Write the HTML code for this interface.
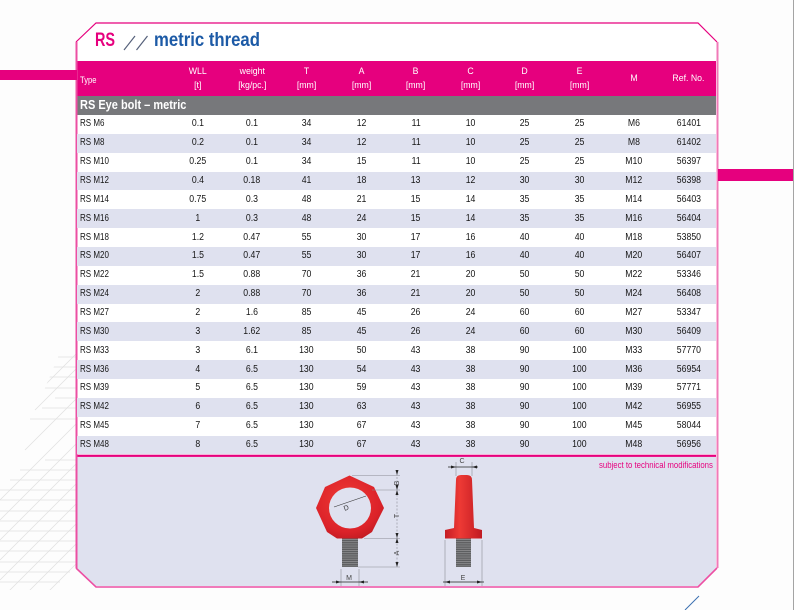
<!DOCTYPE html>
<html><head><meta charset="utf-8">
<style>
body{margin:0;width:794px;height:610px;background:#fdfdfd;position:relative;overflow:hidden;font-family:"Liberation Sans",Arial,sans-serif}
svg.bg{position:absolute;left:0;top:0}
.abs{position:absolute;white-space:nowrap}
#rows{position:absolute;left:77px;top:115px;width:639px}
.r{height:18.87px;display:flex;align-items:center;font-size:10px;color:#161616;line-height:10px}
.r:nth-child(even){background:#dfe1ef}
.r div,.h div{width:54.58px;text-align:center;flex:none}
.r div:first-child,.h div:first-child{width:93.2px;text-align:left;padding-left:3px;box-sizing:border-box}
.r span{display:inline-block;transform:scaleX(.87)}
.r div:first-child span{transform-origin:0 50%;transform:scaleX(.8)}
.h{position:absolute;left:77px;top:61px;width:639px;height:35px;display:flex;align-items:center;color:#fff;font-size:9.5px;line-height:14px}
.h span{display:inline-block;transform:scaleX(.92)}
.h div:first-child span{transform-origin:0 50%;transform:scaleX(.8);position:relative;top:2px}
</style></head><body>
<svg class="bg" width="794" height="610" viewBox="0 0 794 610">
<defs>
<radialGradient id="red" cx="0.45" cy="0.4" r="0.7">
<stop offset="0" stop-color="#ef3b36"/><stop offset="0.7" stop-color="#dc2229"/><stop offset="1" stop-color="#b81920"/>
</radialGradient>
<linearGradient id="red2" x1="0" x2="1">
<stop offset="0" stop-color="#c41c24"/><stop offset="0.4" stop-color="#ee3a35"/><stop offset="1" stop-color="#c01a22"/>
</linearGradient>
<pattern id="thr" width="4" height="2.2" patternUnits="userSpaceOnUse">
<rect width="4" height="2.2" fill="#5c5d5f"/><rect y="0" width="4" height="0.9" fill="#8a8b8d"/>
</pattern>
<clipPath id="hc"><polygon points="76,352 76,590 0,590 0,470 40,400 60,352"/></clipPath>
</defs>
<!-- hatch -->
<g clip-path="url(#hc)" stroke="#e0e0e0" stroke-width="0.7">
<line x1="58" y1="357" x2="76" y2="357"/><line x1="48" y1="367" x2="76" y2="367"/><line x1="38" y1="377" x2="76" y2="377"/>
<line x1="28" y1="388" x2="76" y2="388"/><line x1="55" y1="398" x2="76" y2="398"/><line x1="42" y1="408" x2="76" y2="408"/>
<line x1="30" y1="419" x2="76" y2="419"/><line x1="45" y1="460" x2="76" y2="460"/><line x1="20" y1="470" x2="76" y2="470"/>
<line x1="10" y1="480" x2="76" y2="480"/><line x1="0" y1="490" x2="76" y2="490"/><line x1="0" y1="500" x2="76" y2="500"/>
<line x1="0" y1="511" x2="76" y2="511"/><line x1="0" y1="521" x2="76" y2="521"/><line x1="0" y1="531" x2="76" y2="531"/>
<line x1="0" y1="541" x2="76" y2="541"/><line x1="0" y1="551" x2="76" y2="551"/><line x1="0" y1="562" x2="76" y2="562"/>
<line x1="0" y1="572" x2="70" y2="572"/><line x1="0" y1="582" x2="60" y2="582"/>
<line x1="20" y1="410" x2="76" y2="354"/><line x1="35" y1="410" x2="76" y2="369"/><line x1="25" y1="450" x2="76" y2="399"/>
<line x1="0" y1="500" x2="76" y2="424"/><line x1="0" y1="520" x2="76" y2="444"/><line x1="0" y1="540" x2="76" y2="464"/>
<line x1="0" y1="560" x2="76" y2="484"/><line x1="0" y1="580" x2="76" y2="504"/><line x1="5" y1="595" x2="76" y2="524"/>
<line x1="25" y1="595" x2="76" y2="544"/><line x1="45" y1="595" x2="76" y2="564"/>
</g>
<!-- frame fill -->
<polygon points="76,42 96,23 698,23 717,42 717,568 698,587 96,587 76,568" fill="#ffffff"/>
<rect x="77" y="61" width="639" height="35" fill="#e6007e"/>
<rect x="77" y="96" width="639" height="19" fill="#77787b"/>
<polygon points="77,457 716,457 716,568 698,586 96,586 77,568" fill="#dfe1ef"/>
<rect x="77" y="454.7" width="639" height="2.2" fill="#e6007e"/>
<!-- frame outline -->
<polyline points="76,42 96,23 698,23 717,42" fill="none" stroke="#e6007e" stroke-width="1.2"/>
<line x1="76.5" y1="42" x2="76.5" y2="568" stroke="#ec4fa3" stroke-width="2"/>
<line x1="717.5" y1="42" x2="717.5" y2="568" stroke="#f07ab8" stroke-width="2"/>
<polyline points="76,568 96,587 698,587 717,568" fill="none" stroke="#ec4fa3" stroke-width="1.6"/>
<!-- bars -->
<rect x="0" y="70" width="77" height="10" fill="#e6007e"/>
<rect x="718" y="169" width="76" height="12" fill="#e6007e"/>
<rect x="793" y="0" width="1" height="610" fill="#a4a4a4"/>
<line x1="685" y1="610" x2="699" y2="596" stroke="#3a6fb0" stroke-width="1"/>
<!-- title slashes -->
<line x1="124" y1="50" x2="135" y2="36" stroke="#55607a" stroke-width="1.2"/>
<line x1="136.5" y1="50" x2="147.5" y2="36" stroke="#55607a" stroke-width="1.2"/>
<!-- eye bolt front -->
<g>
<rect x="342" y="537" width="16" height="30" fill="url(#thr)"/>
<path fill-rule="evenodd" fill="url(#red)" d="M349.5,475.5 L374,487 L384,508 L372,532 L362,538.5 L337,538.5 L327,532 L316,508 L325,487 Z M350,487.5 A21,20.5 0 1 0 350,528.5 A21,20.5 0 1 0 350,487.5 Z"/>
<g stroke="#8c8c96" stroke-width="0.6" fill="none">
<line x1="352" y1="475.5" x2="400" y2="475.5"/>
<line x1="372" y1="490" x2="400" y2="490"/>
<line x1="364" y1="538.5" x2="400" y2="538.5"/>
<line x1="358" y1="567" x2="400" y2="567"/>
<line x1="397" y1="470" x2="397" y2="567" stroke-dasharray="2,1.5"/>
<line x1="341" y1="569" x2="341" y2="586"/>
<line x1="359" y1="569" x2="359" y2="586"/>
<line x1="334" y1="507" x2="366" y2="496" stroke="#333"/>
</g>
<g fill="#222">
<polygon points="395.5,470 398.5,470 397,475"/><polygon points="395.5,485 398.5,485 397,490"/>
<polygon points="395.5,495 398.5,495 397,490"/><polygon points="395.5,533 398.5,533 397,538"/>
<polygon points="395.5,543 398.5,543 397,538"/><polygon points="395.5,562 398.5,562 397,567"/>
<line x1="332" y1="582" x2="368" y2="582" stroke="#222" stroke-width="0.7"/>
<polygon points="336,580.5 336,583.5 341,582"/><polygon points="364,580.5 364,583.5 359,582"/>
</g>
<g font-family="Liberation Sans,Arial,sans-serif" font-size="7" fill="#444">
<text x="399" y="483" transform="rotate(-90 399 483)" text-anchor="middle">B</text>
<text x="399" y="516" transform="rotate(-90 399 516)" text-anchor="middle">T</text>
<text x="399" y="553" transform="rotate(-90 399 553)" text-anchor="middle">A</text>
<text x="347" y="510" transform="rotate(-20 347 510)" text-anchor="middle" fill="#333">D</text>
<text x="349" y="580" text-anchor="middle">M</text>
</g>
</g>
<!-- side view -->
<g>
<rect x="456" y="537" width="15" height="30" fill="url(#thr)"/>
<path fill="url(#red2)" d="M456,480 Q456,475 461,475 L467,475 Q472,475 472,480 L474,528 L482,530 L482,538.5 L445,538.5 L445,530 L454,528 Z"/>
<g stroke="#8c8c96" stroke-width="0.6" fill="none">
<line x1="456" y1="462" x2="456" y2="476"/><line x1="472" y1="462" x2="472" y2="476"/>
<line x1="445" y1="540" x2="445" y2="586"/><line x1="482" y1="540" x2="482" y2="586"/>
</g>
<g fill="#222">
<line x1="448" y1="467" x2="478" y2="467" stroke="#222" stroke-width="0.7"/>
<polygon points="451,465.5 451,468.5 456,467"/><polygon points="477,465.5 477,468.5 472,467"/>
<line x1="443" y1="582" x2="484" y2="582" stroke="#222" stroke-width="0.7"/>
<polygon points="450,580.5 450,583.5 445,582"/><polygon points="477,580.5 477,583.5 482,582"/>
</g>
<g font-family="Liberation Sans,Arial,sans-serif" font-size="7" fill="#444">
<text x="462" y="463" text-anchor="middle">C</text>
<text x="463" y="580" text-anchor="middle">E</text>
</g>
</g>
</svg>

<div class="abs" style="left:95px;top:28px;font-size:19px;font-weight:bold;color:#e6007e;transform:scaleX(.76);transform-origin:0 0;line-height:26px">RS</div>
<div class="abs" style="left:154px;top:28px;font-size:19px;font-weight:bold;color:#1c5aa6;transform:scaleX(.88);transform-origin:0 0;line-height:26px">metric thread</div>

<div class="h">
<div><span>Type</span></div>
<div><span>WLL<br>[t]</span></div>
<div><span>weight<br>[kg/pc.]</span></div>
<div><span>T<br>[mm]</span></div>
<div><span>A<br>[mm]</span></div>
<div><span>B<br>[mm]</span></div>
<div><span>C<br>[mm]</span></div>
<div><span>D<br>[mm]</span></div>
<div><span>E<br>[mm]</span></div>
<div><span>M</span></div>
<div><span>Ref. No.</span></div>
</div>

<div class="abs" style="left:80px;top:97px;font-size:12.5px;font-weight:bold;color:#fff;line-height:17px;transform:scaleX(.88);transform-origin:0 0">RS Eye bolt – metric</div>

<div id="rows">
<div class="r"><div><span>RS M6</span></div><div><span>0.1</span></div><div><span>0.1</span></div><div><span>34</span></div><div><span>12</span></div><div><span>11</span></div><div><span>10</span></div><div><span>25</span></div><div><span>25</span></div><div><span>M6</span></div><div><span>61401</span></div></div>
<div class="r"><div><span>RS M8</span></div><div><span>0.2</span></div><div><span>0.1</span></div><div><span>34</span></div><div><span>12</span></div><div><span>11</span></div><div><span>10</span></div><div><span>25</span></div><div><span>25</span></div><div><span>M8</span></div><div><span>61402</span></div></div>
<div class="r"><div><span>RS M10</span></div><div><span>0.25</span></div><div><span>0.1</span></div><div><span>34</span></div><div><span>15</span></div><div><span>11</span></div><div><span>10</span></div><div><span>25</span></div><div><span>25</span></div><div><span>M10</span></div><div><span>56397</span></div></div>
<div class="r"><div><span>RS M12</span></div><div><span>0.4</span></div><div><span>0.18</span></div><div><span>41</span></div><div><span>18</span></div><div><span>13</span></div><div><span>12</span></div><div><span>30</span></div><div><span>30</span></div><div><span>M12</span></div><div><span>56398</span></div></div>
<div class="r"><div><span>RS M14</span></div><div><span>0.75</span></div><div><span>0.3</span></div><div><span>48</span></div><div><span>21</span></div><div><span>15</span></div><div><span>14</span></div><div><span>35</span></div><div><span>35</span></div><div><span>M14</span></div><div><span>56403</span></div></div>
<div class="r"><div><span>RS M16</span></div><div><span>1</span></div><div><span>0.3</span></div><div><span>48</span></div><div><span>24</span></div><div><span>15</span></div><div><span>14</span></div><div><span>35</span></div><div><span>35</span></div><div><span>M16</span></div><div><span>56404</span></div></div>
<div class="r"><div><span>RS M18</span></div><div><span>1.2</span></div><div><span>0.47</span></div><div><span>55</span></div><div><span>30</span></div><div><span>17</span></div><div><span>16</span></div><div><span>40</span></div><div><span>40</span></div><div><span>M18</span></div><div><span>53850</span></div></div>
<div class="r"><div><span>RS M20</span></div><div><span>1.5</span></div><div><span>0.47</span></div><div><span>55</span></div><div><span>30</span></div><div><span>17</span></div><div><span>16</span></div><div><span>40</span></div><div><span>40</span></div><div><span>M20</span></div><div><span>56407</span></div></div>
<div class="r"><div><span>RS M22</span></div><div><span>1.5</span></div><div><span>0.88</span></div><div><span>70</span></div><div><span>36</span></div><div><span>21</span></div><div><span>20</span></div><div><span>50</span></div><div><span>50</span></div><div><span>M22</span></div><div><span>53346</span></div></div>
<div class="r"><div><span>RS M24</span></div><div><span>2</span></div><div><span>0.88</span></div><div><span>70</span></div><div><span>36</span></div><div><span>21</span></div><div><span>20</span></div><div><span>50</span></div><div><span>50</span></div><div><span>M24</span></div><div><span>56408</span></div></div>
<div class="r"><div><span>RS M27</span></div><div><span>2</span></div><div><span>1.6</span></div><div><span>85</span></div><div><span>45</span></div><div><span>26</span></div><div><span>24</span></div><div><span>60</span></div><div><span>60</span></div><div><span>M27</span></div><div><span>53347</span></div></div>
<div class="r"><div><span>RS M30</span></div><div><span>3</span></div><div><span>1.62</span></div><div><span>85</span></div><div><span>45</span></div><div><span>26</span></div><div><span>24</span></div><div><span>60</span></div><div><span>60</span></div><div><span>M30</span></div><div><span>56409</span></div></div>
<div class="r"><div><span>RS M33</span></div><div><span>3</span></div><div><span>6.1</span></div><div><span>130</span></div><div><span>50</span></div><div><span>43</span></div><div><span>38</span></div><div><span>90</span></div><div><span>100</span></div><div><span>M33</span></div><div><span>57770</span></div></div>
<div class="r"><div><span>RS M36</span></div><div><span>4</span></div><div><span>6.5</span></div><div><span>130</span></div><div><span>54</span></div><div><span>43</span></div><div><span>38</span></div><div><span>90</span></div><div><span>100</span></div><div><span>M36</span></div><div><span>56954</span></div></div>
<div class="r"><div><span>RS M39</span></div><div><span>5</span></div><div><span>6.5</span></div><div><span>130</span></div><div><span>59</span></div><div><span>43</span></div><div><span>38</span></div><div><span>90</span></div><div><span>100</span></div><div><span>M39</span></div><div><span>57771</span></div></div>
<div class="r"><div><span>RS M42</span></div><div><span>6</span></div><div><span>6.5</span></div><div><span>130</span></div><div><span>63</span></div><div><span>43</span></div><div><span>38</span></div><div><span>90</span></div><div><span>100</span></div><div><span>M42</span></div><div><span>56955</span></div></div>
<div class="r"><div><span>RS M45</span></div><div><span>7</span></div><div><span>6.5</span></div><div><span>130</span></div><div><span>67</span></div><div><span>43</span></div><div><span>38</span></div><div><span>90</span></div><div><span>100</span></div><div><span>M45</span></div><div><span>58044</span></div></div>
<div class="r"><div><span>RS M48</span></div><div><span>8</span></div><div><span>6.5</span></div><div><span>130</span></div><div><span>67</span></div><div><span>43</span></div><div><span>38</span></div><div><span>90</span></div><div><span>100</span></div><div><span>M48</span></div><div><span>56956</span></div></div>
</div>

<div class="abs" style="right:81px;top:460px;font-size:9.5px;color:#e6007e;line-height:12px;transform:scaleX(.82);transform-origin:100% 0">subject to technical modifications</div>
</body></html>
